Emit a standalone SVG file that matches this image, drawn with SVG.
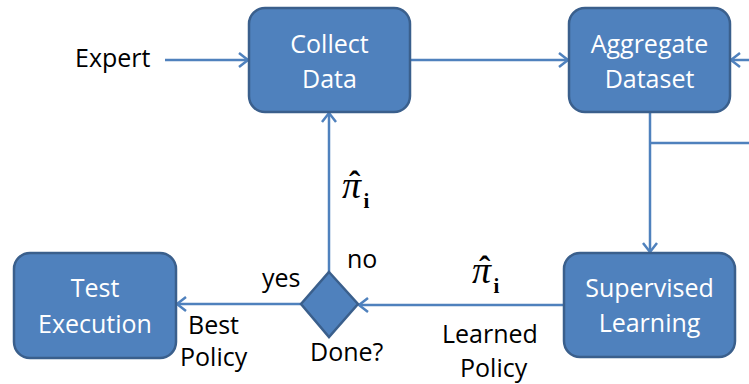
<svg xmlns="http://www.w3.org/2000/svg" width="749" height="384" viewBox="0 0 749 384">
<defs>
<style>
.box{fill:#4F81BD;stroke:#3A5F8C;stroke-width:2.5}
.bt{font-family:"Open Sans","Noto Sans",sans-serif;font-size:25px;fill:#fff;text-anchor:middle}
.lb{font-family:"Open Sans","Noto Sans",sans-serif;font-size:25px;fill:#000}
.ln{fill:none;stroke:#4F81BD;stroke-width:2.5}
.pi{font-family:"Liberation Serif",serif;font-style:italic;font-size:38px;fill:#000}
.hat{font-style:normal;font-size:34px;font-weight:bold}
.sub{font-weight:bold;font-style:normal;font-size:21px}
</style>
<marker id="ah" markerUnits="userSpaceOnUse" markerWidth="16" markerHeight="18" refX="11" refY="8" orient="auto" viewBox="0 0 16 16">
<path d="M2,1 L11,8 L2,15" fill="none" stroke="#4F81BD" stroke-width="2.5"/>
</marker>
</defs>
<g id="connectors">
<line class="ln" x1="165" y1="60" x2="248" y2="60" marker-end="url(#ah)"/>
<line class="ln" x1="410" y1="60" x2="568" y2="60" marker-end="url(#ah)"/>
<line class="ln" x1="749" y1="60" x2="731" y2="60" marker-end="url(#ah)"/>
<line class="ln" x1="650" y1="113" x2="650" y2="252" marker-end="url(#ah)"/>
<line class="ln" x1="650" y1="143" x2="749" y2="143"/>
<line class="ln" x1="564" y1="305" x2="359" y2="305" marker-end="url(#ah)"/>
<line class="ln" x1="301" y1="304" x2="177" y2="304" marker-end="url(#ah)"/>
<line class="ln" x1="329" y1="272" x2="329" y2="113" marker-end="url(#ah)"/>
</g>
<g id="expert"><text class="lb" x="75" y="67">Expert</text></g>
<g id="collect">
<rect class="box" x="249" y="8" width="161" height="104" rx="16"/>
<text class="bt" x="329.5" y="53">Collect</text>
<text class="bt" x="329.5" y="88">Data</text>
</g>
<g id="aggregate">
<rect class="box" x="569" y="8" width="161" height="104" rx="16"/>
<text class="bt" x="649.5" y="53">Aggregate</text>
<text class="bt" x="649.5" y="88">Dataset</text>
</g>
<g id="supervised">
<rect class="box" x="564" y="253" width="171" height="104" rx="16"/>
<text class="bt" x="649.5" y="297">Supervised</text>
<text class="bt" x="649.5" y="332">Learning</text>
</g>
<g id="test">
<rect class="box" x="14" y="253" width="162" height="105" rx="16"/>
<text class="bt" x="95" y="297">Test</text>
<text class="bt" x="95" y="333">Execution</text>
</g>
<g id="done">
<polygon class="box" points="329,272 358,304 329,337 301,304" stroke-width="2"/>
<text class="lb" x="310" y="361">Done?</text>
</g>
<g id="labels">
<text class="lb" x="262" y="287">yes</text>
<text class="lb" x="347" y="268">no</text>
<text class="lb" x="188" y="334">Best</text>
<text class="lb" x="180" y="366">Policy</text>
<text class="lb" x="442" y="343">Learned</text>
<text class="lb" x="460" y="377">Policy</text>
<text class="pi" x="342" y="198">π<tspan class="hat" dx="-12" dy="-3">ˆ</tspan><tspan class="sub" dx="3" dy="13">i</tspan></text>
<text class="pi" x="472" y="283">π<tspan class="hat" dx="-12" dy="-3">ˆ</tspan><tspan class="sub" dx="3" dy="13">i</tspan></text>
</g>
</svg>
